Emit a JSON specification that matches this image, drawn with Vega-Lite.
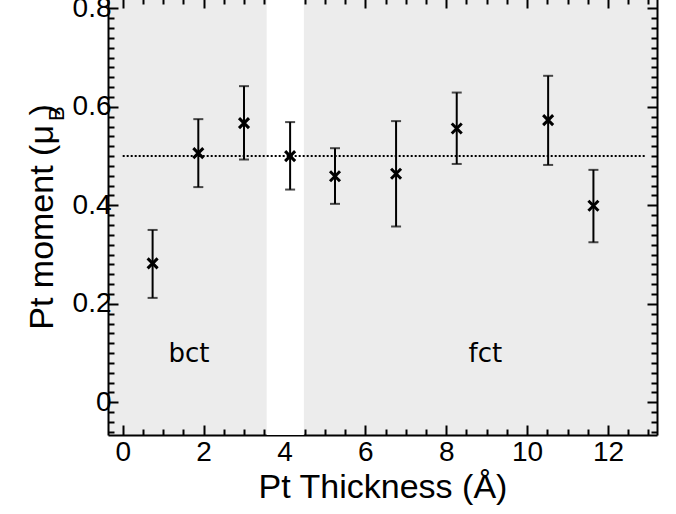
{
  "$schema": "https://vega.github.io/schema/vega-lite/v6.json",
  "width": 549,
  "height": 437,
  "autosize": "none",
  "padding": {"left": 108, "top": -2, "right": 19, "bottom": 79},
  "background": "white",
  "view": {"fill": "#ececec", "stroke": null},
  "config": {
    "axis": {
      "domainColor": "black", "domainWidth": 2, "tickColor": "black", "tickWidth": 2,
      "labelFont": "Liberation Sans", "labelFontSize": 28, "labelColor": "black",
      "titleFont": "Liberation Sans", "titleFontSize": 34, "titleFontWeight": "normal", "titleColor": "black",
      "grid": false, "labelOverlap": false, "labelFlush": false
    }
  },
  "datasets": {
    "pts": [
      {"thickness": 0.74, "moment": 0.282, "lo": 0.212, "hi": 0.350},
      {"thickness": 1.87, "moment": 0.506, "lo": 0.437, "hi": 0.575},
      {"thickness": 3.00, "moment": 0.567, "lo": 0.493, "hi": 0.642},
      {"thickness": 4.14, "moment": 0.500, "lo": 0.432, "hi": 0.569},
      {"thickness": 5.25, "moment": 0.459, "lo": 0.403, "hi": 0.516},
      {"thickness": 6.76, "moment": 0.464, "lo": 0.357, "hi": 0.571},
      {"thickness": 8.26, "moment": 0.556, "lo": 0.484, "hi": 0.629},
      {"thickness": 10.52, "moment": 0.573, "lo": 0.482, "hi": 0.663},
      {"thickness": 11.64, "moment": 0.399, "lo": 0.325, "hi": 0.472}
    ],
    "labels": [
      {"label": "bct", "thickness": 1.64, "moment": 0.098},
      {"label": "fct", "thickness": 8.97, "moment": 0.098}
    ],
    "one": [{}]
  },
  "layer": [
    {
      "data": {"name": "one"},
      "mark": {"type": "rect", "color": "white"},
      "encoding": {
        "x": {
          "datum": 3.56, "type": "quantitative",
          "scale": {"domain": [-0.363, 13.212], "nice": false, "zero": false},
          "axis": {
            "orient": "bottom",
            "values": [0,0.5,1,1.5,2,2.5,3,3.5,4,4.5,5,5.5,6,6.5,7,7.5,8,8.5,9,9.5,10,10.5,11,11.5,12,12.5,13],
            "tickSize": {"condition": {"test": "datum.value % 2 === 0", "value": -10}, "value": -6},
            "labelExpr": "datum.value % 2 === 0 ? format(datum.value, 'd') : ''",
            "labelPadding": 13,
            "title": "Pt Thickness (Å)",
            "titlePadding": 0
          }
        },
        "x2": {"datum": 4.48}
      }
    },
    {
      "data": {"name": "one"},
      "mark": {"type": "rule", "color": "black", "strokeWidth": 2, "strokeDash": [2, 2]},
      "encoding": {
        "x": {
          "datum": 0, "type": "quantitative",
          "scale": {"domain": [-0.363, 13.212], "nice": false, "zero": false},
          "axis": {
            "orient": "top",
            "values": [0,0.5,1,1.5,2,2.5,3,3.5,4,4.5,5,5.5,6,6.5,7,7.5,8,8.5,9,9.5,10,10.5,11,11.5,12,12.5,13],
            "tickSize": {"condition": {"test": "datum.value % 2 === 0", "value": -10}, "value": -6},
            "labels": false, "title": null
          }
        },
        "x2": {"datum": 12.92},
        "y": {
          "datum": 0.5, "type": "quantitative",
          "scale": {"domain": [-0.0664, 0.821], "nice": false, "zero": false},
          "axis": {
            "orient": "left",
            "values": [-0.06,-0.04,-0.02,0,0.02,0.04,0.06,0.08,0.1,0.12,0.14,0.16,0.18,0.2,0.22,0.24,0.26,0.28,0.3,0.32,0.34,0.36,0.38,0.4,0.42,0.44,0.46,0.48,0.5,0.52,0.54,0.56,0.58,0.6,0.62,0.64,0.66,0.68,0.7,0.72,0.74,0.76,0.78,0.8],
            "tickSize": {"condition": {"test": "abs(datum.value*5 - round(datum.value*5)) < 0.001", "value": -10}, "value": -6},
            "labelExpr": "abs(datum.value*5 - round(datum.value*5)) < 0.001 ? format(datum.value, '~g') : ''",
            "labelPadding": 7,
            "title": "Pt moment (μ )",
            "titlePadding": 13
          }
        }
      }
    },
    {
      "data": {"name": "pts"},
      "mark": {"type": "rule", "color": "black", "strokeWidth": 2},
      "encoding": {
        "x": {"field": "thickness", "type": "quantitative", "scale": {"domain": [-0.363, 13.212], "nice": false, "zero": false}, "axis": null},
        "y": {
          "field": "lo", "type": "quantitative",
          "scale": {"domain": [-0.0664, 0.821], "nice": false, "zero": false},
          "axis": {
            "orient": "right",
            "values": [-0.06,-0.04,-0.02,0,0.02,0.04,0.06,0.08,0.1,0.12,0.14,0.16,0.18,0.2,0.22,0.24,0.26,0.28,0.3,0.32,0.34,0.36,0.38,0.4,0.42,0.44,0.46,0.48,0.5,0.52,0.54,0.56,0.58,0.6,0.62,0.64,0.66,0.68,0.7,0.72,0.74,0.76,0.78,0.8],
            "tickSize": {"condition": {"test": "abs(datum.value*5 - round(datum.value*5)) < 0.001", "value": -10}, "value": -6},
            "labels": false, "title": null
          }
        },
        "y2": {"field": "hi"}
      }
    },
    {
      "data": {"name": "pts"},
      "mark": {"type": "tick", "orient": "horizontal", "color": "black", "size": 10, "thickness": 2},
      "encoding": {
        "x": {"field": "thickness", "type": "quantitative", "scale": {"domain": [-0.363, 13.212], "nice": false, "zero": false}, "axis": null},
        "y": {"field": "lo", "type": "quantitative", "scale": {"domain": [-0.0664, 0.821], "nice": false, "zero": false}, "axis": null}
      }
    },
    {
      "data": {"name": "pts"},
      "mark": {"type": "tick", "orient": "horizontal", "color": "black", "size": 10, "thickness": 2},
      "encoding": {
        "x": {"field": "thickness", "type": "quantitative", "scale": {"domain": [-0.363, 13.212], "nice": false, "zero": false}, "axis": null},
        "y": {"field": "hi", "type": "quantitative", "scale": {"domain": [-0.0664, 0.821], "nice": false, "zero": false}, "axis": null}
      }
    },
    {
      "data": {"name": "pts"},
      "mark": {"type": "point", "shape": "M-1,-1L1,1M-1,1L1,-1", "filled": false, "stroke": "black", "strokeWidth": 3, "size": 100, "opacity": 1},
      "encoding": {
        "x": {"field": "thickness", "type": "quantitative", "scale": {"domain": [-0.363, 13.212], "nice": false, "zero": false}, "axis": null},
        "y": {"field": "moment", "type": "quantitative", "scale": {"domain": [-0.0664, 0.821], "nice": false, "zero": false}, "axis": null}
      }
    },
    {
      "data": {"name": "labels"},
      "mark": {"type": "text", "font": "DejaVu Sans", "fontSize": 26, "color": "black", "align": "center", "baseline": "middle"},
      "encoding": {
        "x": {"field": "thickness", "type": "quantitative", "scale": {"domain": [-0.363, 13.212], "nice": false, "zero": false}, "axis": null},
        "y": {"field": "moment", "type": "quantitative", "scale": {"domain": [-0.0664, 0.821], "nice": false, "zero": false}, "axis": null},
        "text": {"field": "label"}
      }
    },
    {
      "data": {"name": "one"},
      "mark": {"type": "text", "text": "B", "font": "Liberation Sans", "fontSize": 22, "color": "black", "angle": 270, "align": "center", "baseline": "middle", "clip": false},
      "encoding": {
        "x": {"datum": -1.63, "type": "quantitative", "scale": {"domain": [-0.363, 13.212], "nice": false, "zero": false}, "axis": null},
        "y": {"datum": 0.586, "type": "quantitative", "scale": {"domain": [-0.0664, 0.821], "nice": false, "zero": false}, "axis": null}
      }
    }
  ],
  "resolve": {"axis": {"x": "independent", "y": "independent"}}
}
